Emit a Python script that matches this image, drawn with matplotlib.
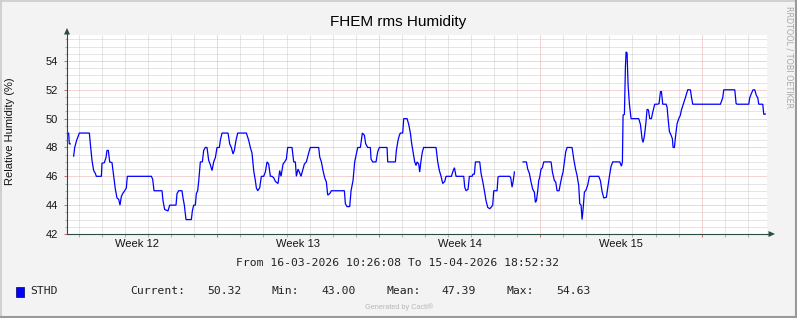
import numpy as np
import matplotlib
matplotlib.use("Agg")
import matplotlib.pyplot as plt
import matplotlib.transforms as mtransforms
from matplotlib.patches import Polygon, Rectangle
from matplotlib.lines import Line2D

nan = np.nan

# ---- data (time in days since 16-03-2026 10:26:08) ----
days = [
    0.000, 0.072, 0.100, 0.144, 0.210,
    0.289, 0.333, 0.419, 0.477, 0.535, 0.969, 1.012, 1.084, 1.156, 1.229, 1.272, 1.489, 1.518, 1.619, 1.691,
    1.735, 1.792, 1.850, 1.951, 2.024, 2.096, 2.168, 2.241, 2.298, 2.356, 2.414, 2.501, 2.573, 2.616, 3.657,
    3.715, 3.773, 4.120, 4.163, 4.235, 4.380, 4.452, 4.727, 4.770, 4.843, 4.987, 5.030, 5.088, 5.160, 5.392,
    5.435, 5.493, 5.565, 5.609, 5.666, 5.710, 5.782, 5.869, 5.927, 5.999, 6.071, 6.144, 6.216, 6.288, 6.360,
    6.433, 6.505, 6.606, 6.649, 6.722, 6.982, 7.054, 7.126, 7.199, 7.256, 7.329, 7.401, 7.777, 7.878, 7.950,
    8.023, 8.095, 8.167, 8.211, 8.268, 8.355, 8.427, 8.528, 8.601, 8.673, 8.745, 8.817, 8.890, 8.962, 9.034,
    9.150, 9.222, 9.280, 9.367, 9.439, 9.511, 9.569, 9.757, 9.830, 9.902, 9.945, 10.017, 10.075, 10.147,
    10.234, 10.292, 10.379, 10.437, 10.494, 10.552, 10.914, 10.957, 11.029, 11.101, 11.174, 11.246, 11.304,
    11.391, 11.463, 12.027, 12.070, 12.142, 12.258, 12.316, 12.402, 12.474, 12.547, 12.605, 12.720, 12.807,
    12.894, 12.952, 13.039, 13.154, 13.183, 13.256, 13.400, 13.472, 13.544, 13.877, 13.906, 14.238, 14.281,
    14.354, 14.412, 14.455, 14.556, 14.600, 14.744, 14.817, 14.889, 14.947, 15.004, 15.077, 15.134, 15.178,
    15.250, 15.293, 15.351, 15.409, 15.467, 16.002, 16.074, 16.146, 16.219, 16.291, 16.378, 16.436, 16.667,
    16.725, 16.797, 16.869, 17.202, 17.245, 17.303, 17.389, 17.447, 17.563, 17.606, 17.664, 17.708, 17.896,
    17.953, 18.026, 18.098, 18.170, 18.242, 18.329, 18.387, 18.459, 18.503, 18.647, 18.690, 18.748, 19.196,
    19.240, 19.297, 19.341, 19.399, 19.600,
    19.775, 19.919, 19.977, 20.049, 20.121, 20.194, 20.266, 20.309, 20.353, 20.411, 20.454, 20.497, 20.555,
    20.613, 20.671, 20.989, 21.047, 21.133, 21.191, 21.249, 21.336, 21.394, 21.452, 21.509, 21.567, 21.625,
    21.683, 21.899, 21.972, 22.044, 22.116, 22.189, 22.232, 22.290, 22.333, 22.376, 22.434, 22.506, 22.579,
    22.651, 23.056, 23.128, 23.200, 23.273, 23.388, 23.446, 23.518, 23.591, 23.663, 23.967, 24.039, 24.082,
    24.111, 24.169, 24.213, 24.242, 24.284, 24.328, 24.386, 24.458, 24.791, 24.863, 24.935, 24.978, 25.036,
    25.094, 25.152, 25.210, 25.268, 25.340, 25.398, 25.484, 25.614, 25.672, 25.730, 25.773, 25.831, 25.976,
    26.019, 26.063, 26.120, 26.193, 26.250, 26.279, 26.337, 26.380, 26.453, 26.525, 26.597, 26.641, 26.699,
    26.771, 26.814, 26.857, 26.915, 27.031, 27.075, 27.132, 28.332, 28.375, 28.433, 28.477, 28.954, 29.012,
    29.055, 29.561, 29.604, 29.676, 29.748, 29.821, 29.893, 29.951, 29.994, 30.168, 30.211, 30.283,
]
humidity = [
    49.0, 49.0, 48.25, 48.25, nan,
    47.4, 48.0, 48.5, 48.75, 49.0, 49.0, 48.25, 47.1, 46.4, 46.2, 46.0, 46.0, 46.9, 46.95, 47.3,
    47.8, 47.8, 47.0, 46.95, 46.0, 45.1, 44.5, 44.4, 44.0, 44.6, 44.8, 45.0, 45.2, 46.0, 46.0,
    45.8, 45.0, 45.0, 44.3, 43.7, 43.6, 44.0, 44.0, 44.8, 45.0, 45.0, 44.5, 44.0, 43.0, 43.0,
    43.6, 44.0, 44.0, 44.8, 45.0, 45.65, 47.0, 47.0, 47.8, 48.0, 48.0, 47.1, 46.8, 46.4, 47.0,
    47.3, 48.0, 48.0, 48.5, 49.0, 49.0, 48.25, 48.0, 47.55, 47.8, 48.5, 49.0, 49.0, 48.5, 48.0,
    47.6, 46.4, 45.7, 45.2, 45.0, 45.2, 46.0, 46.0, 46.3, 47.0, 46.85, 46.0, 46.0, 45.9, 45.65,
    45.5, 46.4, 46.0, 46.85, 47.0, 47.2, 48.0, 48.0, 47.0, 47.0, 46.0, 46.5, 46.3, 46.0,
    46.5, 46.85, 47.0, 47.35, 47.7, 48.0, 48.0, 47.35, 47.0, 46.4, 45.9, 45.6, 44.7,
    44.8, 45.0, 45.0, 44.1, 43.9, 43.9, 45.0, 45.7, 47.0, 47.55, 48.0, 48.0, 49.0,
    48.85, 48.25, 48.0, 48.0, 47.2, 47.0, 47.0, 47.7, 48.0, 48.0, 47.0, 47.0, 47.8,
    48.5, 48.85, 49.0, 49.0, 50.0, 50.0, 49.6, 49.0, 48.25, 47.7, 47.0, 46.75, 47.0,
    46.85, 46.3, 47.1, 47.7, 48.0, 48.0, 47.0, 46.4, 46.0, 45.5, 45.65, 46.0, 46.0,
    46.3, 46.6, 46.0, 46.0, 45.25, 45.0, 45.1, 46.0, 46.0, 46.15, 46.15, 47.0, 47.0,
    46.2, 45.65, 45.0, 44.3, 43.85, 43.75, 43.85, 44.0, 45.0, 45.0, 45.95, 46.0, 46.0,
    45.9, 45.25, 45.6, 46.3, nan,
    47.0, 47.0, 46.5, 46.2, 45.6, 45.1, 44.9, 44.2, 44.3, 45.0, 45.7, 45.95, 46.5,
    46.6, 47.0, 47.0, 46.3, 45.7, 45.6, 45.0, 45.0, 45.5, 45.95, 46.3, 47.0, 47.7,
    48.0, 48.0, 47.2, 46.55, 46.05, 45.35, 44.1, 44.0, 43.0, 43.7, 44.9, 45.05, 45.4,
    46.0, 46.0, 45.7, 44.95, 44.5, 44.55, 45.2, 46.0, 46.7, 47.0, 47.0, 46.7, 47.0,
    50.25, 50.3, 53.6, 54.63, 54.55, 52.35, 51.0, 50.0, 50.0, 49.6, 48.6, 48.35, 48.8,
    49.6, 50.65, 50.6, 50.0, 50.0, 50.45, 51.0, 51.0, 51.05, 51.85, 51.9, 51.0, 51.0,
    50.8, 50.0, 49.1, 48.85, 48.6, 48.0, 48.0, 48.7, 49.65, 50.0, 50.25, 50.6, 50.9,
    51.25, 51.45, 51.7, 52.0, 52.0, 51.5, 51.0, 51.0, 51.2, 51.45, 52.0, 52.0, 51.05,
    51.0, 51.0, 51.45, 51.75, 52.0, 52.0, 51.6, 51.45, 51.0, 51.0, 50.3, 50.32,
]

week_labels = ["Week 12", "Week 13", "Week 14", "Week 15"]
week_label_days = [3.018, 10.018, 17.018, 24.018]
week_start_days = [6.518, 13.518, 20.518, 27.518]
first_day_line = 0.518
span_days = 30.3517
y_major = [42, 44, 46, 48, 50, 52, 54]

title = "FHEM rms Humidity"
ylabel = "Relative Humidity (%)"
period = "From 16-03-2026 10:26:08 To 15-04-2026 18:52:32"
series_name = "STHD"
stats = [("Current:", "50.32"), ("Min:", "43.00"), ("Mean:", "47.39"), ("Max:", "54.63")]

W, H = 797, 318
fig = plt.figure(figsize=(W / 100, H / 100), dpi=100, facecolor="#F3F3F3")

def fx(px):
    return px / W

def fy(py):
    return 1 - py / H

L, R, T, B = 67, 767, 34.5, 234
ax = fig.add_axes([fx(L), fy(B), fx(R - L), (B - T) / H])
ax.set_facecolor("#FFFFFF")
ax.set_xlim(0, span_days)
ax.set_ylim(42, 42 + (B - T) / 14.42)

minor_x = [first_day_line + k for k in range(31) if first_day_line + k < span_days]
ax.set_xticks(week_start_days)
ax.set_xticks(minor_x, minor=True)
ax.set_xticklabels([])
ax.set_yticks(y_major)
ax.set_yticklabels([str(v) for v in y_major])
ax.set_yticks(np.arange(42, 55.9, 0.5), minor=True)

grid_minor = "#CDCDCD"
grid_major = "#E8A8A8"
ax.grid(which="minor", color=grid_minor, linestyle=(0, (1, 1)), linewidth=0.72)
ax.grid(which="major", color=grid_major, linestyle=(0, (1, 1)), linewidth=0.72)
ax.set_axisbelow(True)

ax.tick_params(axis="both", which="major", direction="out", length=2.5, width=0.75,
               color="#D07070", labelsize=8, labelcolor="#141414", pad=4)
ax.tick_params(axis="both", which="minor", direction="out", length=1.8, width=0.75,
               color="#B0B0B0")
for lab in ax.get_yticklabels():
    lab.set_family("Liberation Sans")

for s in ["top", "right"]:
    ax.spines[s].set_visible(False)
axis_col = "#2C4D43"
ax.spines["left"].set_color(axis_col)
ax.spines["bottom"].set_color(axis_col)
ax.spines["left"].set_linewidth(0.8)
ax.spines["bottom"].set_linewidth(0.8)

ax.plot(days, humidity, color="#0000FF", linewidth=0.9, solid_joinstyle="miter")

# axis extension and arrows
fig.add_artist(Line2D([fx(R), fx(769)], [fy(B), fy(B)], color=axis_col, lw=0.8))
fig.add_artist(Polygon([[fx(775), fy(B)], [fx(768.5), fy(B - 3)], [fx(768.5), fy(B + 3)]],
                       closed=True, color=axis_col, lw=0))
fig.add_artist(Polygon([[fx(L), fy(28)], [fx(L - 3), fy(34.5)], [fx(L + 3), fy(34.5)]],
                       closed=True, color=axis_col, lw=0))

# week labels
trans = mtransforms.blended_transform_factory(ax.transData, fig.transFigure)
for d, lab in zip(week_label_days, week_labels):
    ax.text(d, fy(244), lab, transform=trans, ha="center", va="center",
            fontsize=8, family="Liberation Sans", color="#141414")

fig.text(fx(398), fy(22), title, ha="center", va="center", fontsize=11,
         family="Liberation Sans", color="#000000")
fig.text(fx(10), fy(131), ylabel, rotation=90, ha="center", va="center", fontsize=8,
         family="Liberation Sans", color="#141414")
fig.text(fx(398), fy(263), period, ha="center", va="center", fontsize=8.2,
         family="DejaVu Sans Mono", color="#222222")

# legend
fig.add_artist(Rectangle((fx(15.5), fy(296.5)), fx(8), 9.5 / H, facecolor="#0000FF",
                         edgecolor="#000060", lw=0.5))
mono = dict(family="DejaVu Sans Mono", fontsize=8.2, color="#222222", va="center", ha="left")
fig.text(fx(30.5), fy(291), series_name, **mono)
lab_x = [130.7, 272, 386.4, 506.9]
val_x = [207.4, 321.3, 441.3, 556.7]
for (lab, val), lx, vx in zip(stats, lab_x, val_x):
    fig.text(fx(lx), fy(291), lab, **mono)
    fig.text(fx(vx), fy(291), val, **mono)

fig.text(fx(399), fy(307.5), "Generated by Cacti®", ha="center", va="center",
         fontsize=5.3, family="Liberation Sans", color="#B8B8B8")
fig.text(fx(789), fy(57), "RRDTOOL / TOBI OETIKER", rotation=270, ha="center", va="center",
         fontsize=5.8, family="DejaVu Sans", color="#A8A8A8")

# frame
fig.add_artist(Line2D([0, 1], [fy(0.5), fy(0.5)], color="#CBCBCB", lw=1.2))
fig.add_artist(Line2D([fx(0.5), fx(0.5)], [0, 1], color="#CBCBCB", lw=1.2))
fig.add_artist(Line2D([0, 1], [fy(317), fy(317)], color="#999999", lw=1.5))
fig.add_artist(Line2D([fx(796), fx(796)], [0, 1], color="#999999", lw=1.5))

fig.savefig("out.png", dpi=100, facecolor=fig.get_facecolor())
